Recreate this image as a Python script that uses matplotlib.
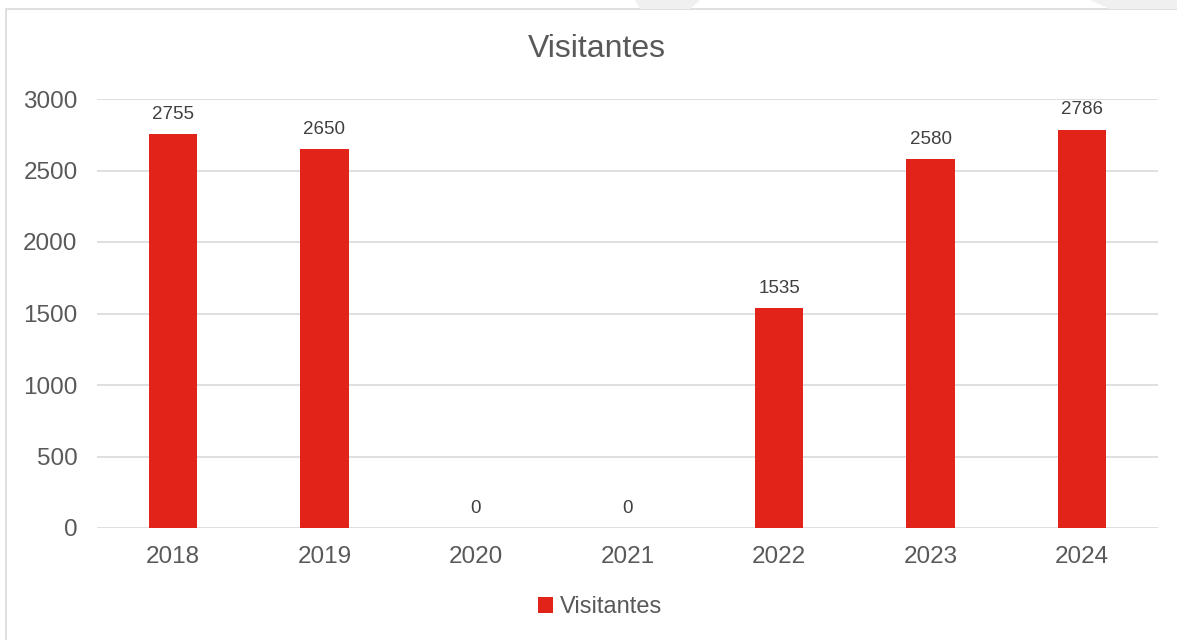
import matplotlib.pyplot as plt
import numpy as np
from matplotlib.patches import Rectangle, Polygon

plt.rcParams['font.family'] = ['Liberation Sans', 'DejaVu Sans']

anios = ['2018', '2019', '2020', '2021', '2022', '2023', '2024']
visitantes = [2755, 2650, 0, 0, 1535, 2580, 2786]

rojo = '#E2231A'
gris_txt = '#595959'

fig = plt.figure(figsize=(11.77, 6.4), dpi=100)
# marco del grafico
fig.patches.append(Rectangle((6/1177, -0.1), 1.2, 1 - 9/640 + 0.1, transform=fig.transFigure,
                             fill=False, edgecolor='#D9D9D9', linewidth=1.2, zorder=0))
# marca de agua (trazos grises arriba)
for xs in ([635, 700, 690, 640], [1090, 1177, 1177, 1110]):
    fig.patches.append(Polygon([(xs[0]/1177, 1), (xs[1]/1177, 1), (xs[2]/1177, 1 - 9/640), (xs[3]/1177, 1 - 9/640)],
                               closed=True, transform=fig.transFigure, facecolor='#F0F0F0', edgecolor='none'))

ax = fig.add_axes([97/1177, 1 - 528/640, (1158 - 97)/1177, (528 - 99)/640])
x = np.arange(len(anios))
barras = ax.bar(x, visitantes, width=0.32, color=rojo, zorder=3, label='Visitantes')
for xi, v in zip(x, visitantes):
    ax.annotate(str(v), (xi, v), xytext=(0, 8), textcoords='offset points',
                ha='center', va='bottom', fontsize=13.5, color='#404040')

ax.set_xlim(-0.5, len(anios) - 0.5)
ax.set_ylim(0, 3000)
ax.set_yticks(np.arange(0, 3001, 500))
ax.set_xticks(x)
ax.set_xticklabels(anios)
ax.tick_params(axis='both', length=0, labelsize=17.5, colors=gris_txt)
ax.tick_params(axis='y', pad=14)
ax.tick_params(axis='x', pad=13)
ax.grid(axis='y', color='#D9D9D9', linewidth=1.2, zorder=0)
for s in ax.spines.values():
    s.set_visible(False)

fig.text(597/1177, 1 - 49/640, 'Visitantes', ha='center', va='center', fontsize=23, color=gris_txt)
fig.legend(handles=[barras], loc='center', bbox_to_anchor=(600/1177, 1 - 607/640), frameon=False,
           fontsize=17, labelcolor=gris_txt, handlelength=0.65, handleheight=0.65, handletextpad=0.3)

fig.savefig('out.png', dpi=100)
